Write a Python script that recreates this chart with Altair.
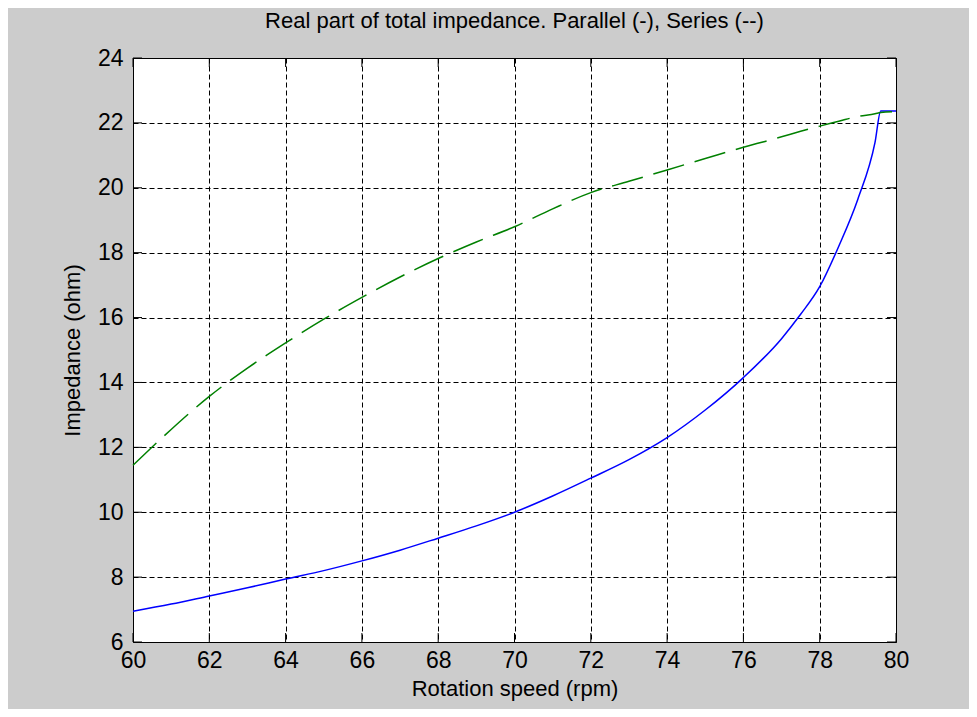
import altair as alt
import pandas as pd

# Rotation speed (rpm)
speed = [60, 61, 62, 63, 64, 65, 66, 67, 68, 69, 70, 71, 72, 73, 74, 75, 76, 77, 77.5, 78, 78.5, 79, 79.45, 79.6, 80]
# Real part of impedance, parallel connection (ohm)
parallel = [6.95, 7.17, 7.42, 7.67, 7.94, 8.2, 8.5, 8.83, 9.2, 9.58, 10.0, 10.5, 11.05, 11.62, 12.3, 13.15,
            14.15, 15.35, 16.1, 16.95, 18.2, 19.65, 21.4, 22.37, 22.37]
# Real part of impedance, series connection (ohm)
series = [11.45, 12.55, 13.57, 14.44, 15.22, 15.95, 16.62, 17.25, 17.82, 18.33, 18.8, 19.35, 19.85, 20.2, 20.55,
          20.9, 21.25, 21.57, 21.74, 21.9, 22.05, 22.2, 22.28, 22.32, 22.35]

x_ticks = [60, 62, 64, 66, 68, 70, 72, 74, 76, 78, 80]
y_ticks = [6, 8, 10, 12, 14, 16, 18, 20, 22, 24]

W, H = 763, 584
TICK = 9
FONT = "Liberation Sans"

df = pd.DataFrame({"speed": speed, "parallel": parallel, "series": series})
xt = pd.DataFrame({"t": x_ticks})
yt = pd.DataFrame({"t": y_ticks})

xscale = alt.Scale(domain=[60, 80], nice=False, zero=False)
yscale = alt.Scale(domain=[6, 24], nice=False, zero=False)

xaxis = alt.Axis(values=x_ticks, grid=True, gridDash=[5, 3], gridColor="black", gridOpacity=1, gridWidth=1,
                 ticks=False, tickSize=0, domain=False, labelFont=FONT, labelFontSize=23, labelColor="black",
                 labelPadding=7, labelFlush=False, labelOverlap=False,
                 title="Rotation speed (rpm)", titleFont=FONT, titleFontSize=22, titleFontWeight="normal",
                 titleColor="black", titleBaseline="alphabetic", titleY=53)
yaxis = alt.Axis(values=y_ticks, grid=True, gridDash=[5, 3], gridColor="black", gridOpacity=1, gridWidth=1,
                 ticks=False, tickSize=0, domain=False, labelFont=FONT, labelFontSize=23, labelColor="black",
                 labelPadding=10, labelFlush=False, labelOverlap=False,
                 title="Impedance (ohm)", titleFont=FONT, titleFontSize=22, titleFontWeight="normal",
                 titleColor="black", titleBaseline="alphabetic", titleX=-54)

base = alt.Chart(df)

blue = base.mark_line(color="#0000ff", strokeWidth=1.5, interpolate="monotone").encode(
    x=alt.X("speed:Q", scale=xscale, axis=xaxis),
    y=alt.Y("parallel:Q", scale=yscale, axis=yaxis),
)
green = base.mark_line(color="#008000", strokeWidth=1.5, strokeDash=[32, 11], interpolate="monotone").encode(
    x=alt.X("speed:Q", scale=xscale),
    y=alt.Y("series:Q", scale=yscale),
)

tick_bottom = alt.Chart(xt).mark_rule(color="black", strokeWidth=1).encode(
    x=alt.X("t:Q", scale=xscale), y=alt.value(H), y2=alt.value(H - TICK))
tick_top = alt.Chart(xt).mark_rule(color="black", strokeWidth=1).encode(
    x=alt.X("t:Q", scale=xscale), y=alt.value(0), y2=alt.value(TICK))
tick_left = alt.Chart(yt).mark_rule(color="black", strokeWidth=1).encode(
    y=alt.Y("t:Q", scale=yscale), x=alt.value(0), x2=alt.value(TICK))
tick_right = alt.Chart(yt).mark_rule(color="black", strokeWidth=1).encode(
    y=alt.Y("t:Q", scale=yscale), x=alt.value(W), x2=alt.value(W - TICK))

chart = alt.layer(blue, green, tick_bottom, tick_top, tick_left, tick_right).properties(
    width=W, height=H,
    title=alt.TitleParams("Real part of total impedance. Parallel (-), Series (--)", font=FONT, fontSize=22,
                          fontWeight="normal", color="black", anchor="middle", offset=14),
    padding={"left": 125, "top": 50, "right": 73, "bottom": 67},
    autosize=alt.AutoSizeParams(type="none"),
    background="#cccccc",
).configure_view(
    fill="white", stroke="black", strokeWidth=1
)

chart.save("out.html", embed_options={"renderer": "svg", "actions": False})
